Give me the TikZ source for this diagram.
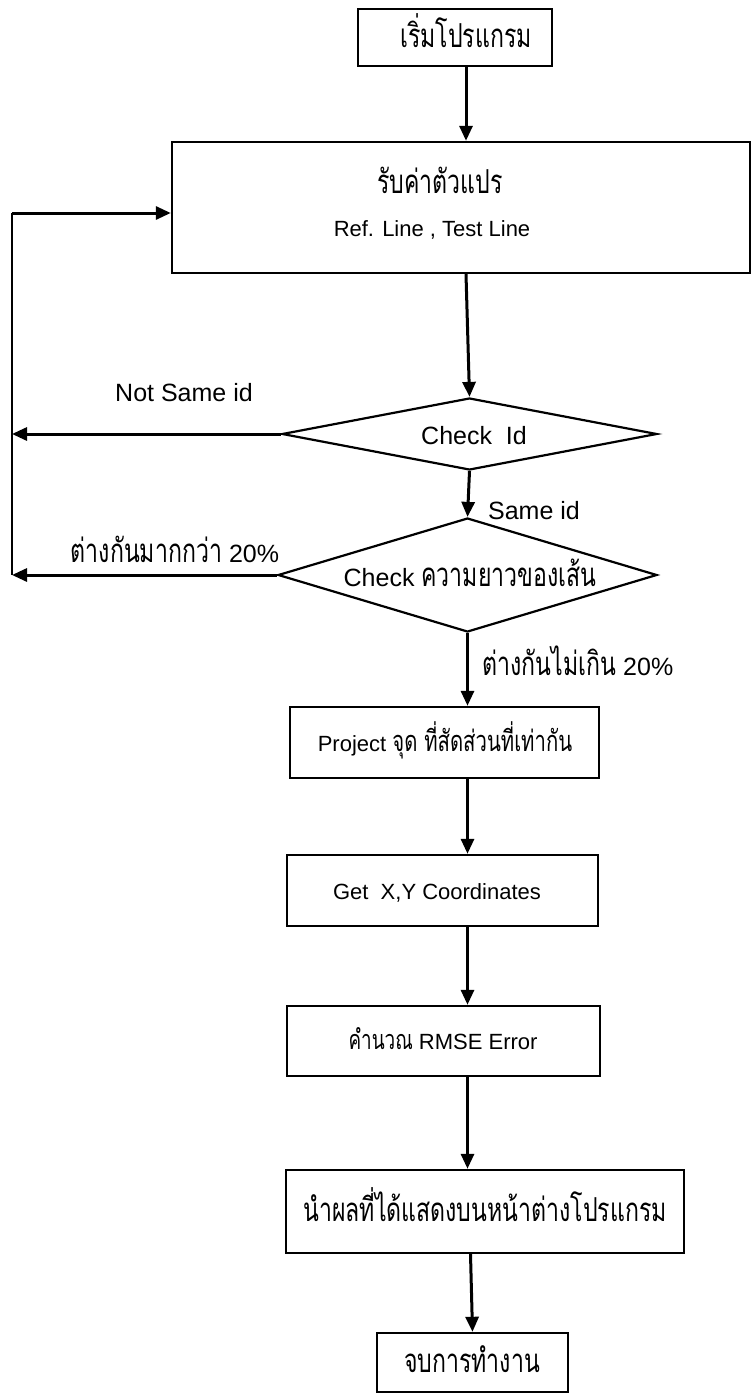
\documentclass[tikz,border=0pt]{standalone}
\usepackage{fontspec}
\setmainfont{Liberation Sans}
\newfontfamily\thaifont[Script=Thai,FakeStretch=0.7]{Loma}
\usetikzlibrary{shapes.geometric,arrows.meta}
\tikzset{
  box/.style={draw,line width=2.4pt,rectangle,inner sep=0pt},
  dec/.style={draw,line width=2.2pt,diamond,inner sep=0pt},
  arr/.style={line width=3pt,-{Triangle[length=15pt,width=13pt]}},
  ln/.style={line width=2.5pt},
  lat/.style={font=\fontsize{22}{24}\selectfont,inner sep=0pt},
  th/.style={font=\thaifont\fontsize{33}{38}\selectfont,inner sep=0pt},
  lbl/.style={font=\fontsize{25}{28}\selectfont,inner sep=0pt},
}
\newcommand{\tw}[2][33]{{\thaifont\fontsize{#1}{38}\selectfont #2}}
\begin{document}
\begin{tikzpicture}[x=1pt,y=-1pt]
\useasboundingbox (0,0) rectangle (751,1394);
% boxes
\node[box,minimum width=194pt,minimum height=57pt] (b1) at (455,37.5) {};
\node[box,minimum width=578pt,minimum height=131pt] (b2) at (461,207.5) {};
\node[dec,minimum width=375pt,minimum height=72pt] (d1) at (469.5,434) {};
\node[dec,minimum width=379pt,minimum height=114pt] (d2) at (467.5,575) {};
\node[box,minimum width=309pt,minimum height=71pt] (b3) at (444.5,742.5) {};
\node[box,minimum width=311pt,minimum height=71pt] (b4) at (442.5,890.5) {};
\node[box,minimum width=313pt,minimum height=70pt] (b5) at (443.5,1041) {};
\node[box,minimum width=398pt,minimum height=83pt] (b6) at (485,1211.5) {};
\node[box,minimum width=191pt,minimum height=59pt] (b7) at (472.5,1362.5) {};
% texts
\node[th,anchor=base] (t1) at (466,48) {เริ่มโปรแกรม};
\node[th,anchor=base] (t2a) at (440,193) {รับค่าตัวแปร};
\node[lat,anchor=base] (t2b) at (432,236) {Ref. Line , Test Line};
\node[lbl,anchor=base] (t3) at (474,444) {Check\ \ Id};
\node[lbl,anchor=base] (t4) at (470,586) {Check \tw{ความยาวของเส้น}};
\node[lat,anchor=base] (t5) at (445,751) {Project \tw[29]{จุด ที่สัดส่วนที่เท่ากัน}};
\node[lat,anchor=base] (t6) at (437,899) {Get\ \ X,Y Coordinates};
\node[lat,anchor=base] (t7) at (443,1049) {\tw[27]{คำนวณ} RMSE Error};
\node[th,anchor=base] (t8) at (485,1221) {นำผลที่ได้แสดงบนหน้าต่างโปรแกรม};
\node[th,anchor=base] (t9) at (472,1372) {จบการทำงาน};
% edge labels
\node[lbl,anchor=base] (l1) at (184,401) {Not Same id};
\node[lbl,anchor=base] (l2) at (534,519) {Same id};
\node[lbl,anchor=base] (l3) at (175,562) {\tw{ต่างกันมากกว่า} 20\%};
\node[lbl,anchor=base] (l4) at (578,675) {\tw{ต่างกันไม่เกิน} 20\%};
% column and loop coordinates
\coordinate (c) at (466,0);
\coordinate (lx) at (12,0);
\coordinate (ltop) at (12,213);
% main flow
\draw[arr] (b1.south -| c) -- (b2.north -| c);
\draw[arr] (b2.south -| c) -- (d1.north);
\draw[arr] (d1.south) -- (d2.north);
\draw[arr] (d2.south) -- (b3.north -| d2.south);
\draw[arr] (b3.south -| d2.south) -- (b4.north -| d2.south);
\draw[arr] (b4.south -| d2.south) -- (b5.north -| d2.south);
\draw[arr] (b5.south -| d2.south) -- (b6.north -| d2.south);
\draw[arr] ([xshift=-14.5pt]b6.south) -- (b7.north);
% loop back
\draw[arr] (d1.west) -- (d1.west -| lx);
\draw[arr] (d2.west) -- (d2.west -| lx);
\draw[ln] (ltop) -- (d2.west -| lx);
\draw[arr] (ltop) -- (ltop -| b2.west);
\end{tikzpicture}
\end{document}
